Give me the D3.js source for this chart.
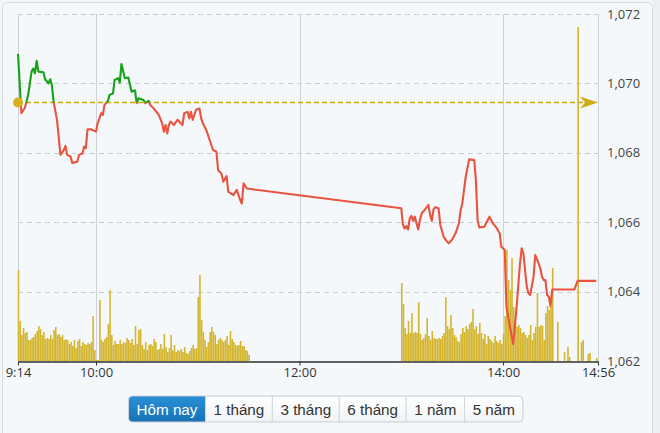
<!DOCTYPE html>
<html><head><meta charset="utf-8">
<script src="https://cdn.jsdelivr.net/npm/d3@7"></script>
<style>
html,body{margin:0;padding:0;background:#f4f7fa;}
svg{display:block;}
</style></head><body>
<svg id="c" width="660" height="433"></svg>
<script>
// ---------------- DATA ----------------
const priceTimes = ["9:14","9:16","9:18","9:19","9:20","9:22","9:23","9:24","9:25","9:26","9:29","9:30","9:32","9:33","9:34","9:35","9:37","9:38","9:39","9:41","9:42","9:43","9:45","9:46","9:49","9:50","9:52","9:53","9:54","9:55","9:57",
"10:00","10:01","10:03","10:04","10:05","10:07","10:08","10:10","10:11","10:13","10:14","10:15","10:17","10:19","10:21","10:23","10:24","10:25","10:28","10:29","10:31","10:32","10:34","10:37","10:39","10:40","10:41","10:42","10:43","10:44","10:46","10:48","10:51","10:52","10:54","10:55","10:56","10:57","10:59",
"11:01","11:02","11:03","11:05","11:07","11:09","11:11","11:12","11:14","11:15","11:17","11:18","11:21","11:23","11:25","11:26","11:27","11:29",
"13:00","13:01","13:02","13:03","13:04","13:05","13:06","13:07","13:08","13:09","13:10","13:11","13:12","13:14","13:16","13:17","13:18","13:19","13:20","13:22","13:23","13:25","13:27","13:28","13:30","13:32","13:34","13:35","13:36","13:38","13:40","13:43","13:44","13:45","13:46","13:49","13:50","13:52","13:54","13:56","13:58","13:59",
"14:01","14:02","14:03","14:06","14:08","14:10","14:11","14:12","14:14","14:15","14:16","14:18","14:19","14:21","14:22","14:23","14:24","14:25","14:26","14:27","14:28","14:29","14:42","14:44","14:55"];
const priceValues = [1070.85,1069.14,1069.29,1069.47,1069.67,1070.34,1070.43,1070.29,1070.65,1070.34,1070.32,1070.12,1070.00,1070.12,1069.95,1069.47,1068.95,1068.46,1067.94,1068.08,1068.20,1067.94,1067.89,1067.71,1067.74,1067.94,1067.98,1068.18,1068.13,1068.68,1068.68,
1068.61,1068.85,1069.14,1069.09,1069.38,1069.49,1069.67,1069.71,1070.10,1070.15,1070.02,1070.56,1070.15,1070.17,1069.76,1069.80,1069.43,1069.57,1069.52,1069.43,1069.50,1069.38,1069.28,1069.09,1068.85,1068.61,1068.80,1068.56,1068.80,1068.90,1068.80,1068.95,1068.80,1069.14,1069.18,1068.99,1069.18,1068.95,1069.24,
1069.28,1068.99,1068.85,1068.66,1068.37,1068.08,1068.03,1067.50,1067.40,1067.17,1067.33,1066.88,1066.78,1066.93,1066.64,1066.54,1067.12,1066.97,
1066.40,1065.92,1065.82,1065.89,1065.79,1066.11,1066.18,1066.04,1066.16,1065.97,1065.79,1066.06,1066.25,1066.37,1066.50,1066.21,1066.04,1066.37,1066.43,1066.40,1065.92,1065.58,1065.44,1065.39,1065.50,1065.68,1065.97,1066.35,1066.54,1067.31,1067.81,1067.79,1067.22,1066.06,1065.85,1065.87,1065.97,1066.16,1065.97,1065.85,1065.68,1065.29,
1065.20,1063.56,1063.28,1062.49,1063.56,1064.81,1065.25,1065.10,1064.14,1063.95,1063.90,1064.43,1065.05,1064.81,1064.67,1064.43,1064.33,1064.33,1063.90,1063.85,1063.58,1064.06,1064.06,1064.31,1064.31];
const refPrice = 1069.45;

// volume per minute (relative units), morning session starting 9:14
const volMorningStart = "9:14";
const volMorning = [91,40,26,33,28,29,21,21,23,24,27,30,35,32,26,29,22,23,22,26,22,31,34,26,27,24,26,21,22,21,17,19,15,21,13,20,22,15,19,17,16,18,17,19,45,11,1,1,61,21,19,22,24,37,71,26,16,20,17,17,21,17,19,18,23,21,18,22,16,35,17,31,32,16,12,19,11,16,17,15,22,19,11,12,17,12,27,14,9,13,26,11,16,9,11,10,12,9,14,8,7,10,13,16,12,13,64,86,41,29,21,14,19,29,34,29,26,17,21,23,21,19,21,25,16,30,22,19,16,15,16,20,15,15,11,10,6];
// afternoon session starting 13:00
const volAfternoonStart = "13:00";
const volAfternoon = [78,57,33,27,40,28,48,28,29,28,59,27,21,23,27,43,25,21,30,23,22,22,23,22,25,28,64,35,32,46,33,26,24,20,19,27,33,29,35,32,37,39,52,32,35,27,38,28,22,27,17,25,22,20,18,25,20,18,21,17,
27,45,111,81,71,103,54,38,34,36,33,28,29,26,23,26,36,21,28,34,68,34,36,35,21,48,55,51,54,93];
// sparse late trades + ATC
const volLateTimes = ["14:32","14:36","14:38","14:39","14:44","14:46","14:47","14:50","14:51","14:55"];
const volLate = [39,9,14,4,334,19,21,7,8,3];

const timeTicks = ["9:14","10:00","12:00","14:00","14:56"];
const priceTicks = [1062,1064,1066,1068,1070,1072];
const periods = ["Hôm nay","1 tháng","3 tháng","6 tháng","1 năm","5 năm"];

// ---------------- CHART ----------------
const toMin = s => { const [h,m] = s.split(":").map(Number); return h*60+m; };
const svg = d3.select("#c");
const W = 660, H = 433;
const L = 18, R = 598, T = 14, B = 361;

const x = d3.scaleLinear().domain([toMin(timeTicks[0]), toMin(timeTicks[timeTicks.length-1])]).range([L, R]);
const y = d3.scaleLinear().domain([1062, 1072]).range([B, T]);
const yv = d3.scaleLinear().domain([0, d3.max(volLate.concat(volMorning, volAfternoon))]).range([B, 27]);

// background & panel
svg.append("rect").attr("width",W).attr("height",H).attr("fill","#f4f7fa");
svg.append("rect").attr("x",653).attr("y",0).attr("width",7).attr("height",H).attr("fill","#eceff2");
svg.append("rect").attr("x",2.5).attr("y",2.5).attr("width",650).attr("height",470).attr("rx",5)
  .attr("fill","#f5f8fb").attr("stroke","#d6dbe0");

// horizontal grid (dashed)
svg.append("g").selectAll("line").data(priceTicks).join("line")
  .attr("x1",L).attr("x2",R).attr("y1",d=>Math.round(y(d))+0.5).attr("y2",d=>Math.round(y(d))+0.5)
  .attr("stroke","#c9ced3").attr("stroke-dasharray","5,4");
// vertical grid
svg.append("g").selectAll("line").data(timeTicks).join("line")
  .attr("x1",d=>Math.round(x(toMin(d)))+0.5).attr("x2",d=>Math.round(x(toMin(d)))+0.5)
  .attr("y1",T).attr("y2",B).attr("stroke","#cdd2d7");

// volume bars
const vols = [];
volMorning.forEach((v,i)=>vols.push({t:toMin(volMorningStart)+i, v}));
volAfternoon.forEach((v,i)=>vols.push({t:toMin(volAfternoonStart)+i, v}));
volLateTimes.forEach((s,i)=>vols.push({t:toMin(s), v:volLate[i]}));
svg.append("g").selectAll("rect").data(vols).join("rect")
  .attr("x",d=>x(d.t)-0.3).attr("width",1.6)
  .attr("y",d=>yv(d.v)).attr("height",d=>B-yv(d.v))
  .attr("fill","#d4b52e");

// price line, green above reference, red below
const pts = priceTimes.map((s,i)=>({t:toMin(s), p:priceValues[i]}));
const yRef = y(refPrice);
const defs = svg.append("defs");
defs.append("clipPath").attr("id","above").append("rect").attr("x",0).attr("y",0).attr("width",W).attr("height",yRef);
defs.append("clipPath").attr("id","below").append("rect").attr("x",0).attr("y",yRef).attr("width",W).attr("height",H-yRef);
const line = d3.line().x(d=>x(d.t)).y(d=>y(d.p));

// reference dashed line
svg.append("line").attr("x1",L).attr("x2",R-4).attr("y1",yRef).attr("y2",yRef)
  .attr("stroke","#c9a90e").attr("stroke-width",1.3).attr("stroke-dasharray","5,3");

svg.append("path").datum(pts).attr("d",line).attr("fill","none")
  .attr("stroke","#e9533f").attr("stroke-width",2.1).attr("stroke-linejoin","round").attr("clip-path","url(#below)");
svg.append("path").datum(pts).attr("d",line).attr("fill","none")
  .attr("stroke","#16a216").attr("stroke-width",2.1).attr("stroke-linejoin","round").attr("clip-path","url(#above)");

// reference marker & arrow
svg.append("circle").attr("cx",L).attr("cy",yRef).attr("r",5).attr("fill","#d6b21c");
svg.append("path")
  .attr("d",`M${R},${yRef} L${R-18},${yRef-6} L${R-13},${yRef} L${R-18},${yRef+6} Z`)
  .attr("fill","#cfaa10");

// bottom axis
const xAxis = d3.axisBottom(x).tickValues(timeTicks.map(toMin))
  .tickFormat((d,i)=>timeTicks[i]).tickSize(4).tickSizeOuter(0);
const gx = svg.append("g").attr("transform",`translate(0,${B+0.5})`).call(xAxis);
gx.select(".domain").attr("stroke","#333").attr("stroke-width",1.5);
gx.selectAll(".tick line").attr("stroke","#333");
gx.selectAll(".tick text").attr("fill","#333").attr("font-family","'Open Sans',sans-serif")
  .attr("font-size",13).attr("dy","0.71em").attr("y",6.5);

// right axis labels
const yAxis = d3.axisRight(y).tickValues(priceTicks).tickFormat(d3.format(",")).tickSize(0);
const gy = svg.append("g").attr("transform",`translate(${R+9},0)`).call(yAxis);
gy.select(".domain").remove();
gy.selectAll(".tick text").attr("fill","#444").attr("font-family","'Open Sans',sans-serif")
  .attr("font-size",13).attr("x",0).attr("dy","0.32em");

// period buttons
const bg = svg.append("g").attr("font-family","'Liberation Sans',Arial,sans-serif").attr("font-size",15.2);
const grad1 = defs.append("linearGradient").attr("id","act").attr("x1",0).attr("x2",0).attr("y1",0).attr("y2",1);
grad1.append("stop").attr("offset",0).attr("stop-color","#2990d6");
grad1.append("stop").attr("offset",1).attr("stop-color","#1672b6");
const grad2 = defs.append("linearGradient").attr("id","ina").attr("x1",0).attr("x2",0).attr("y1",0).attr("y2",1);
grad2.append("stop").attr("offset",0).attr("stop-color","#ffffff");
grad2.append("stop").attr("offset",1).attr("stop-color","#f1f3f5");
let bx = 128.5; const by = 396, bh = 26, pad = 8.1;
const btns = [];
periods.forEach((p,i)=>{
  const t = bg.append("text").text(p).attr("y",by+18.5).attr("fill", i===0?"#fff":"#333");
  const w = t.node().getComputedTextLength() + 2*pad;
  btns.push({x:bx, w, t, i});
  bx += w;
});
const total = bx - 128.5;
defs.append("clipPath").attr("id","btnclip").append("rect").attr("x",128.5).attr("y",by).attr("width",total).attr("height",bh).attr("rx",4);
const rg = bg.insert("g",":first-child").attr("clip-path","url(#btnclip)");
btns.forEach(b=>{
  rg.append("rect").attr("x",b.x).attr("y",by).attr("width",b.w).attr("height",bh)
    .attr("fill", b.i===0?"url(#act)":"url(#ina)").attr("stroke", b.i===0?"#1668a8":"#d3d7db");
  b.t.attr("x", b.x + pad);
});
bg.append("rect").attr("x",128.5).attr("y",by).attr("width",total).attr("height",bh).attr("rx",4)
  .attr("fill","none").attr("stroke","#cfd4d8");
</script>
</body></html>
